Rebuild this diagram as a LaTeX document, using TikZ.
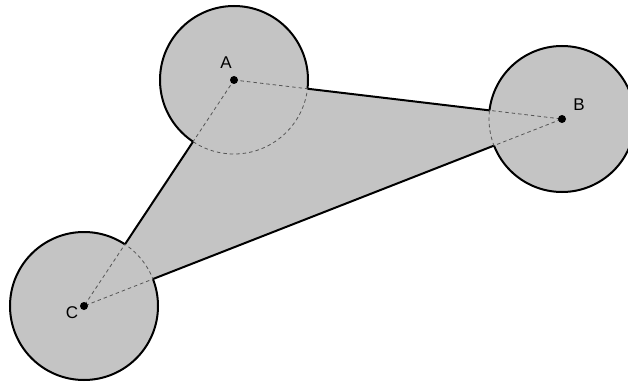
\documentclass[tikz,border=0pt]{standalone}
\usepackage{fontspec}
\setmainfont{Liberation Sans}
\definecolor{fillgray}{RGB}{196,196,196}
\definecolor{dashgray}{RGB}{85,85,85}
\tikzset{
  outline/.style={draw=black, line width=2pt},
  inner/.style={draw=dashgray, line width=0.8pt, dash pattern=on 3.5pt off 3pt},
  centerdot/.style={circle, fill=black, inner sep=0pt, minimum size=8pt},
  lbl/.style={font=\fontsize{17}{17}\selectfont, inner sep=0pt}
}
\begin{document}
\begin{tikzpicture}[x=1pt,y=-1pt]
\useasboundingbox (0,0) rectangle (628,382);
\coordinate (A) at (234,80);
\coordinate (B) at (562,119);
\coordinate (C) at (84,306);
\def\rA{74}\def\rB{73}\def\rC{74}
% fill
\fill[fillgray] (A) -- (B) -- (C) -- cycle;
\fill[fillgray] (A) circle (\rA) (B) circle (\rB) (C) circle (\rC);
% solid circle parts outside triangle
\begin{scope}[even odd rule]
  \clip (-10,-10) rectangle (640,400) (A) -- (B) -- (C) -- cycle;
  \draw[outline] (A) circle (\rA) (B) circle (\rB) (C) circle (\rC);
\end{scope}
% solid triangle parts outside circles
\begin{scope}[even odd rule]
  \clip (-10,-10) rectangle (640,400) (A) circle (\rA) (B) circle (\rB) (C) circle (\rC);
  \draw[outline] (A) -- (B) -- (C) -- cycle;
\end{scope}
% dashed circle arcs inside triangle
\begin{scope}
  \clip (A) -- (B) -- (C) -- cycle;
  \draw[inner] (A) circle (\rA) (B) circle (\rB) (C) circle (\rC);
\end{scope}
% dashed triangle edges inside circles
\begin{scope}
  \clip (A) circle (\rA) (B) circle (\rB) (C) circle (\rC);
  \draw[inner] (A) -- (B) -- (C) -- cycle;
\end{scope}
\node[centerdot] (dA) at (A) {};
\node[centerdot] (dB) at (B) {};
\node[centerdot] (dC) at (C) {};
\node[lbl] (lA) at (226,63) {A};
\node[lbl] (lB) at (579,105) {B};
\node[lbl] (lC) at (72,313) {C};
\end{tikzpicture}
\end{document}
